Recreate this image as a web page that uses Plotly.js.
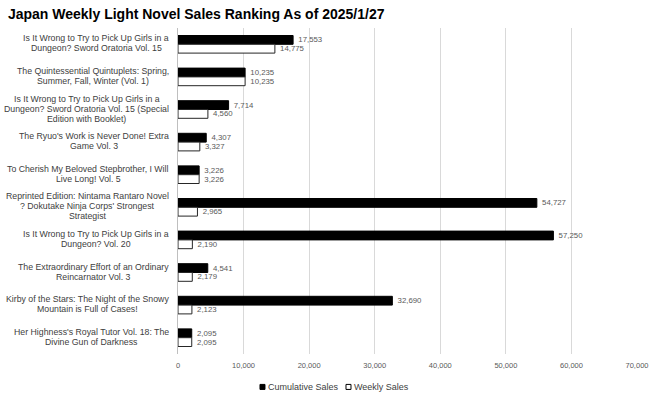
<!DOCTYPE html>
<html>
<head>
<meta charset="utf-8">
<script src="https://cdn.plot.ly/plotly-3.0.1.min.js"></script>
<style>html,body{margin:0;padding:0;background:#fff;}#chart{width:660px;height:397px;}</style>
</head>
<body>
<div id="chart"></div>
<script>
const categories = [
  "Is It Wrong to Try to Pick Up Girls in a<br>Dungeon? Sword Oratoria Vol. 15",
  "The Quintessential Quintuplets: Spring,<br>Summer, Fall, Winter (Vol. 1)",
  "Is It Wrong to Try to Pick Up Girls in a<br>Dungeon? Sword Oratoria Vol. 15 (Special<br>Edition with Booklet)",
  "The Ryuo's Work is Never Done! Extra<br>Game Vol. 3",
  "To Cherish My Beloved Stepbrother, I Will<br>Live Long! Vol. 5",
  "Reprinted Edition: Nintama Rantaro Novel<br>? Dokutake Ninja Corps' Strongest<br>Strategist",
  "Is It Wrong to Try to Pick Up Girls in a<br>Dungeon? Vol. 20",
  "The Extraordinary Effort of an Ordinary<br>Reincarnator Vol. 3",
  "Kirby of the Stars: The Night of the Snowy<br>Mountain is Full of Cases!",
  "Her Highness's Royal Tutor Vol. 18: The<br>Divine Gun of Darkness"
];
const cumulativeSales = [17553, 10235, 7714, 4307, 3226, 54727, 57250, 4541, 32690, 2095];
const weeklySales = [14775, 10235, 4560, 3327, 3226, 2965, 2190, 2179, 2123, 2095];
const seriesNames = ['Cumulative Sales', 'Weekly Sales'];
const xTicks = [0, 10000, 20000, 30000, 40000, 50000, 60000, 70000];

const fmt = v => '\u00a0' + v.toLocaleString('en-US');
const FONT = '"Liberation Sans", Arial, sans-serif';
const labelFont = {family: FONT, size: 8, color: '#595959'};
const catFontSize = 8.75;
const catLineH = 10;

const traces = [
  {
    type: 'bar', orientation: 'h', name: seriesNames[0],
    y: categories, x: cumulativeSales,
    text: cumulativeSales.map(fmt), textposition: 'outside', textfont: labelFont,
    marker: {color: '#000000', line: {color: '#000000', width: 1}},
    cliponaxis: false, showlegend: false
  },
  {
    type: 'bar', orientation: 'h', name: seriesNames[1],
    y: categories, x: weeklySales,
    text: weeklySales.map(fmt), textposition: 'outside', textfont: labelFont,
    marker: {color: '#ffffff', line: {color: '#262626', width: 1}},
    cliponaxis: false, showlegend: false
  }
];

// centered multi-line category labels, block right-aligned to the axis
const cv = document.createElement('canvas').getContext('2d');
cv.font = catFontSize + 'px ' + FONT;
const annotations = [];
const rightEdge = 9;
categories.forEach(cat => {
  const lines = cat.split('<br>');
  const w = Math.max(...lines.map(l => cv.measureText(l).width));
  const n = lines.length;
  lines.forEach((ln, j) => {
    annotations.push({
      xref: 'paper', yref: 'y', x: 0, y: cat,
      xanchor: 'center', yanchor: 'middle',
      xshift: -(rightEdge + w / 2),
      yshift: -((j - (n - 1) / 2) * catLineH) + 1,
      text: ln, showarrow: false,
      font: {family: FONT, size: catFontSize, color: '#404040'}
    });
  });
});

// compact legend like the reference
const legendY = -0.101;
const legendItems = [
  {name: seriesNames[0], x: 0.1786, fill: '#000000'},
  {name: seriesNames[1], x: 0.366, fill: '#ffffff'}
];
const shapes = [];
legendItems.forEach(it => {
  shapes.push({
    type: 'rect', xref: 'paper', yref: 'paper',
    x0: it.x, x1: it.x + 0.0109, y0: legendY - 0.0077, y1: legendY + 0.0077,
    fillcolor: it.fill, line: {color: '#000000', width: 1}
  });
  annotations.push({
    xref: 'paper', yref: 'paper', x: it.x + 0.0135, y: legendY,
    xanchor: 'left', yanchor: 'middle', showarrow: false,
    text: it.name, font: {family: FONT, size: 9, color: '#404040'}
  });
});

const layout = {
  width: 660, height: 397,
  paper_bgcolor: '#ffffff', plot_bgcolor: '#ffffff',
  margin: {l: 178, r: 23, t: 28, b: 43},
  title: {
    text: '<b>Japan Weekly Light Novel Sales Ranking As of 2025/1/27</b>',
    font: {family: FONT, size: 14, color: '#000000'},
    x: 0.012, xanchor: 'left', y: 0.965, yanchor: 'middle'
  },
  barmode: 'group', bargap: 0.46, bargroupgap: 0,
  xaxis: {
    range: [0, 70000], tickvals: xTicks, ticktext: xTicks.map(v => v.toLocaleString('en-US')),
    showgrid: true, gridcolor: '#d9d9d9', gridwidth: 1,
    zeroline: false, showline: false, ticks: '', ticklabelstandoff: 5,
    tickfont: {family: FONT, size: 7.5, color: '#595959'},
    fixedrange: true
  },
  yaxis: {
    autorange: 'reversed', type: 'category',
    showline: true, linecolor: '#bfbfbf', linewidth: 1,
    showgrid: false, ticks: '', showticklabels: false,
    fixedrange: true
  },
  showlegend: false,
  annotations: annotations,
  shapes: shapes
};

Plotly.newPlot('chart', traces, layout, {displayModeBar: false, staticPlot: true});
</script>
</body>
</html>
